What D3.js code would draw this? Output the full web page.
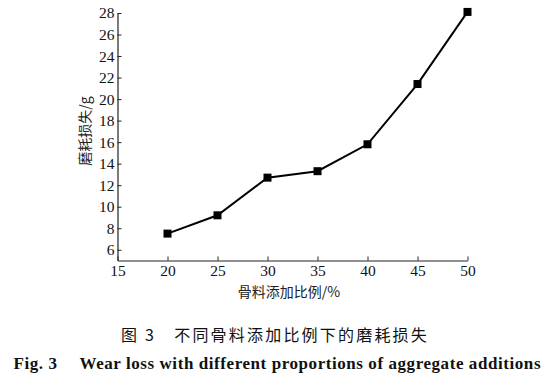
<!DOCTYPE html>
<html><head><meta charset="utf-8">
<script src="https://cdn.jsdelivr.net/npm/d3@7"></script>
<style>
html,body{margin:0;padding:0;background:#fff;}
svg{display:block;}
</style></head>
<body>
<script>
const proportions = [20, 25, 30, 35, 40, 45, 50];
const wearLoss = [7.5, 9.2, 12.7, 13.3, 15.8, 21.4, 28.1];
const xTicks = [15, 20, 25, 30, 35, 40, 45, 50];
const yTicks = [6, 8, 10, 12, 14, 16, 18, 20, 22, 24, 26, 28];
const xLabel = "骨料添加比例/%";
const yLabel = "磨耗损失/g";
const captionCn = "图 3\u3000不同骨料添加比例下的磨耗损失";
const captionEn = "Fig. 3\u2003 Wear loss with different proportions of aggregate additions";

const W = 559, H = 391;
const m = {left: 117.5, right: W - 467.5, top: 13, bottom: H - 260.5};
const svg = d3.select("body").append("svg").attr("width", W).attr("height", H);

const x = d3.scaleLinear().domain([15, 50]).range([m.left, W - m.right]);
const y = d3.scaleLinear().domain([5, 28]).range([H - m.bottom, m.top]);

const serif = "'Liberation Serif','Times New Roman',serif";

const xAxis = svg.append("g").attr("transform", `translate(0,${H - m.bottom})`)
  .call(d3.axisBottom(x).tickValues(xTicks).tickSizeInner(-4).tickSizeOuter(0).tickPadding(4));
const yAxis = svg.append("g").attr("transform", `translate(${m.left},0)`)
  .call(d3.axisLeft(y).tickValues(yTicks).tickSizeInner(-4).tickSizeOuter(0).tickPadding(3));

[xAxis, yAxis].forEach(g => {
  g.select(".domain").attr("stroke", "#222").attr("stroke-width", 1.2);
  g.selectAll(".tick line").attr("stroke", "#222").attr("stroke-width", 1);
  g.selectAll(".tick text").attr("font-family", serif).attr("font-size", 15.5).attr("fill", "#111");
});
xAxis.selectAll(".tick text").attr("dy", "0.71em");

const line = d3.line().x((d, i) => x(proportions[i])).y(d => y(d));
svg.append("path").datum(wearLoss).attr("d", line)
  .attr("fill", "none").attr("stroke", "#000").attr("stroke-width", 2);

svg.selectAll("rect.pt").data(wearLoss).enter().append("rect").attr("class", "pt")
  .attr("x", (d, i) => x(proportions[i]) - 4)
  .attr("y", d => y(d) - 4)
  .attr("width", 8).attr("height", 8).attr("fill", "#000");

const cjk = "'Noto Sans CJK SC','Noto Sans',sans-serif";
svg.append("text").attr("x", 289).attr("y", 297)
  .attr("text-anchor", "middle").attr("font-family", cjk).attr("font-size", 14)
  .attr("fill", "#222").text(xLabel);

svg.append("text").attr("transform", `translate(90,131) rotate(-90)`)
  .attr("text-anchor", "middle").attr("font-family", cjk).attr("font-size", 14)
  .attr("fill", "#222").text(yLabel);

svg.append("text").attr("x", 275).attr("y", 341)
  .attr("text-anchor", "middle").attr("font-family", cjk).attr("font-size", 16)
  .attr("letter-spacing", 2.2).attr("fill", "#111").text(captionCn);

svg.append("text").attr("x", 277).attr("y", 369)
  .attr("text-anchor", "middle").attr("font-family", serif).attr("font-weight", "bold")
  .attr("font-size", 17).attr("textLength", 527).attr("lengthAdjust", "spacing")
  .attr("fill", "#111").text(captionEn);
</script>
</body></html>
